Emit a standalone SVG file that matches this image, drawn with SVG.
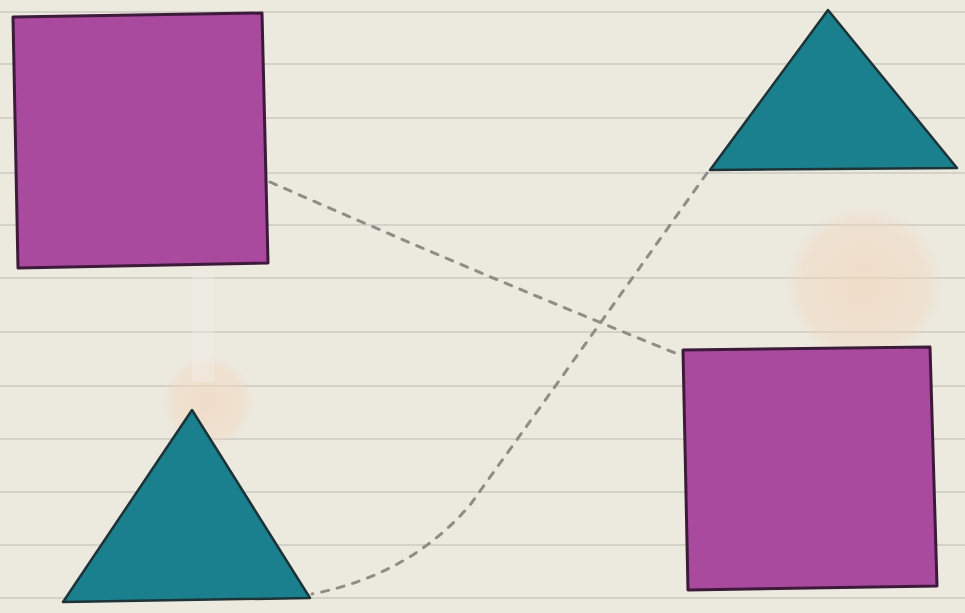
<svg xmlns="http://www.w3.org/2000/svg" width="965" height="613" viewBox="0 0 965 613">
<defs>
<style>
.rule{stroke:#cdc9c0;stroke-width:1.5;fill:none}
.sq{fill:#a94a9f;stroke:#3d1a3a;stroke-width:3;stroke-linejoin:round}
.tri{fill:#1a808d;stroke:#1d3338;stroke-width:2.5;stroke-linejoin:round}
.dash{fill:none;stroke:#8f8d86;stroke-width:3;stroke-dasharray:7 9;stroke-linecap:round}
</style>
<radialGradient id="peach" cx="0.5" cy="0.5" r="0.5">
<stop offset="0" stop-color="#f2d6bc" stop-opacity="0.65"/>
<stop offset="0.8" stop-color="#f2d8c0" stop-opacity="0.45"/>
<stop offset="1" stop-color="#f2d8c0" stop-opacity="0"/>
</radialGradient>
</defs>
<rect x="0" y="0" width="965" height="613" fill="#ece9df"/>
<g id="rules">
<line class="rule" x1="0" y1="12" x2="965" y2="12"/>
<line class="rule" x1="0" y1="64" x2="965" y2="64"/>
<line class="rule" x1="0" y1="118" x2="965" y2="118"/>
<line class="rule" x1="0" y1="173" x2="965" y2="173"/>
<line class="rule" x1="0" y1="225" x2="965" y2="225"/>
<line class="rule" x1="0" y1="278" x2="965" y2="278"/>
<line class="rule" x1="0" y1="332" x2="965" y2="332"/>
<line class="rule" x1="0" y1="386" x2="965" y2="386"/>
<line class="rule" x1="0" y1="439" x2="965" y2="439"/>
<line class="rule" x1="0" y1="492" x2="965" y2="492"/>
<line class="rule" x1="0" y1="545" x2="965" y2="545"/>
<line class="rule" x1="0" y1="598" x2="965" y2="598"/>
</g>
<g id="stains">
<circle cx="864" cy="285" r="78" fill="url(#peach)"/>
<circle cx="208" cy="402" r="45" fill="url(#peach)"/>
<rect x="192" y="272" width="22" height="110" fill="#f4f2ec" opacity="0.35"/>
</g>
<g id="connectors">
<path class="dash" d="M270,182 Q470,270 680,355"/>
<path class="dash" d="M707,173 Q560,380 470,505 Q410,575 312,594"/>
</g>
<g id="square-top-left">
<polygon class="sq" points="13,17 262,13 268,263 18,268"/>
</g>
<g id="triangle-top-right">
<polygon class="tri" points="828,10 957,168 710,170"/>
</g>
<g id="triangle-bottom-left">
<polygon class="tri" points="192,410 310,598 63,602"/>
</g>
<g id="square-bottom-right">
<polygon class="sq" points="683,350 930,347 937,586 688,590"/>
</g>
</svg>
